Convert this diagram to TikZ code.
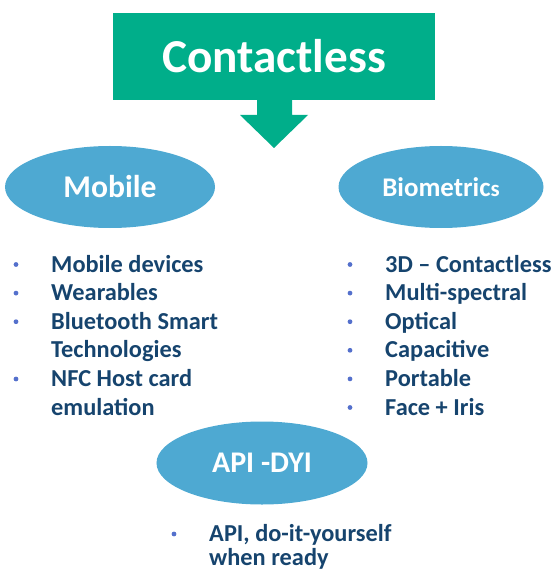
\documentclass[tikz,border=0pt]{standalone}
\usepackage{fontspec}
\setmainfont{Carlito}
\usetikzlibrary{shapes.geometric}
\definecolor{contactgreen}{RGB}{0,174,138}
\definecolor{ovalblue}{RGB}{78,169,210}
\definecolor{itemblue}{RGB}{22,68,110}
\definecolor{dotblue}{RGB}{84,112,204}

\tikzset{
	oval/.style={ellipse, fill=ovalblue, text=white, font=\bfseries, minimum width=6.3cm, minimum height=2.46cm, inner sep=0pt},
	item/.style={anchor=base west, text=itemblue, font=\fontsize{20.8}{24}\bfseries, inner sep=0pt}
}

\begin{document}
\begin{tikzpicture}[x=0.03cm,y=-0.03cm]
	\useasboundingbox (0,0) rectangle (553,571);
	% heading and arrow
	\fill[contactgreen] (257,99) -- (257,115) -- (240,115) -- (274,148) -- (308,115) -- (292,115) -- (292,99) -- cycle;
	\node[fill=contactgreen, text=white, font=\fontsize{40.3}{46}\bfseries, minimum width=9.66cm, minimum height=2.61cm] (contactless) at (274,56.5) {Contactless};
	
	% ovals
	\node[oval, minimum width=6.3cm] (mobile) at (110,187) {\fontsize{27}{30}\selectfont Mobile};
	\node[oval, minimum width=6.15cm] (biometrics) at (441,187) {\fontsize{23}{26}\selectfont Biometric\fontsize{19.5}{26}\selectfont s};
	\node[oval, minimum width=6.33cm, minimum height=2.49cm] (apidyi) at (262,463) {\fontsize{25.6}{28}\selectfont API -DYI};
	
	% left list
	\foreach \y in {264.5,293.1,321.7,379}
		\fill[dotblue] (16,\y) circle (2.4);
	\node[item] (mob1) at (51,272) {Mobile devices};
	\node[item] (mob2) at (51,300.6) {Wearables};
	\node[item] (mob3) at (51,329.2) {Bluetooth Smart};
	\node[item] (mob4) at (51,357.8) {Technologies};
	\node[item] (mob5) at (51,386.4) {NFC Host card};
	\node[item] (mob6) at (51,415) {emulation};
	
	% right list
	\foreach \t [count=\i] in {3D -- Contactless, Multi-spectral, Optical, Capacitive, Portable, Face + Iris}{
		\fill[dotblue] (350,{264.5+28.6*(\i-1)}) circle (2.4);
		\node[item] (bio\i) at (385,{272+28.6*(\i-1)}) {\t};
	}
	
	% bottom list
	\fill[dotblue] (174,534) circle (2.4);
	\node[item] (api1) at (209,541.5) {API, do-it-yourself};
	\node[item] (api2) at (209,565) {when ready};
\end{tikzpicture}
\end{document}
